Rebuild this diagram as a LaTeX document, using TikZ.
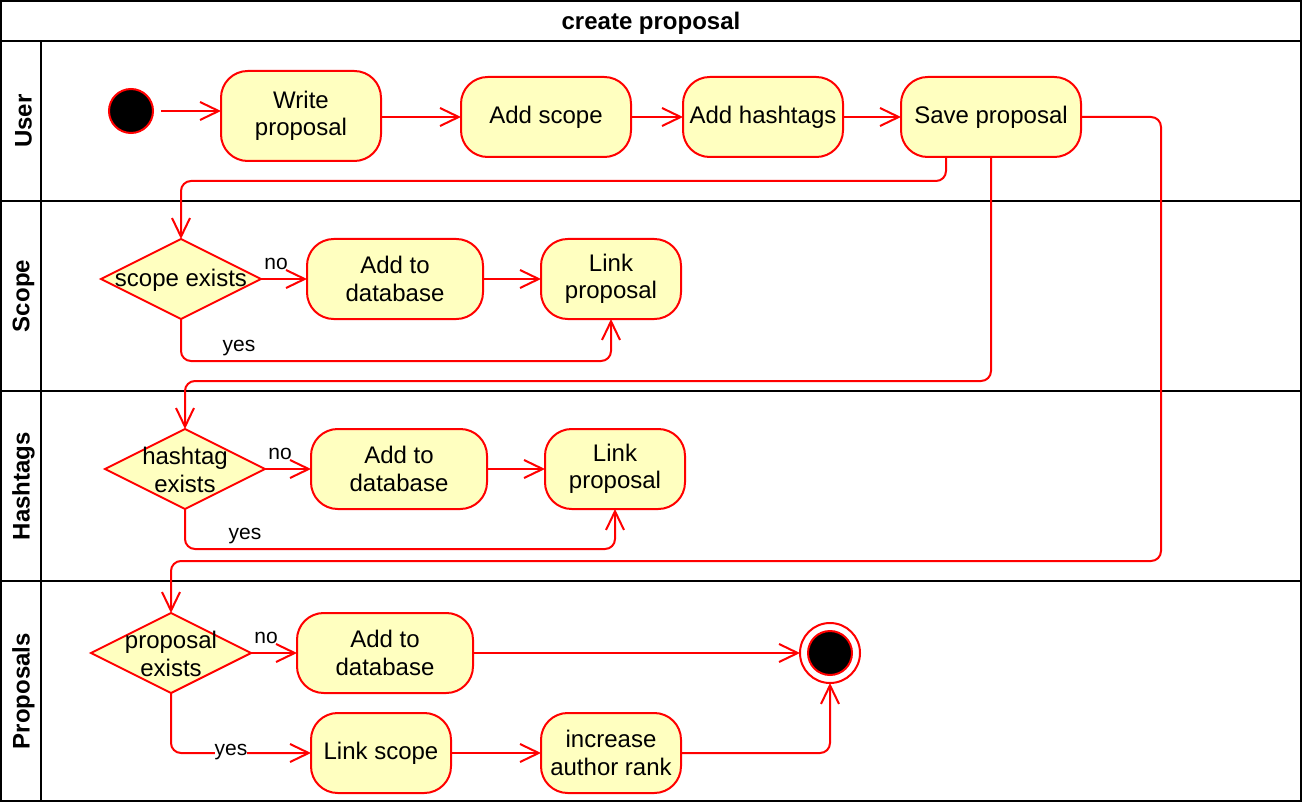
\documentclass[tikz,border=0pt]{standalone}
\usepackage{fontspec}
\setmainfont{Liberation Sans}
\usetikzlibrary{shapes.geometric,arrows.meta}
\definecolor{actfill}{HTML}{FFFFC0}
\definecolor{actred}{HTML}{FF0000}
\begin{document}
\begin{tikzpicture}[x=0.75pt,y=-0.75pt,
  frame/.style={draw=black,line width=1.5pt},
  act/.style={draw=actred,fill=actfill,line width=1.5pt,rounded corners=20pt,
    align=center,inner sep=0pt,outer sep=0pt,font=\fontsize{18}{20.5}\selectfont},
  dec/.style={draw=actred,fill=actfill,line width=1.5pt,shape=diamond,inner sep=0pt,outer sep=0pt,
    minimum width=120pt,minimum height=60pt},
  dectext/.style={align=center,inner sep=0pt,font=\fontsize{18}{20.5}\selectfont},
  conn/.style={draw=actred,line width=1.5pt,rounded corners=7.5pt,-{Straight Barb[length=14pt,width=13.5pt]}},
  elabel/.style={inner sep=1pt,font=\fontsize{15.75}{18}\selectfont},
  lanelabel/.style={rotate=90,font=\bfseries\fontsize{18}{20}\selectfont},
  titlelabel/.style={font=\bfseries\fontsize{18}{20}\selectfont}
]
\useasboundingbox (0,0) rectangle (1302,802);
% swimlane frame
\draw[frame] (1,1) rectangle (1301,801);
\draw[frame] (1,41) -- (1301,41);
\draw[frame] (41,41) -- (41,801);
\draw[frame] (1,201) -- (1301,201);
\draw[frame] (1,391) -- (1301,391);
\draw[frame] (1,581) -- (1301,581);
\node[titlelabel] (title) at (651,23.5) {create proposal};
\node[lanelabel] (lUser) at (23.5,121) {User};
\node[lanelabel] (lScope) at (23.5,296) {Scope};
\node[lanelabel] (lHash) at (23.5,486) {Hashtags};
\node[lanelabel] (lProp) at (23.5,691) {Proposals};

% User lane
\node[circle,draw=actred,fill=black,line width=1.5pt,minimum size=33pt,inner sep=0pt,outer sep=0pt] (start) at (131,111) {};
\node[act,minimum width=120pt,minimum height=67.5pt] (write) at (301,116) {Write\\proposal};
\node[act,minimum width=127.5pt,minimum height=60pt] (ascope) at (546,117) {Add scope};
\node[act,minimum width=120pt,minimum height=60pt] (ahash) at (763,117) {Add hashtags};
\node[act,minimum width=135pt,minimum height=60pt] (save) at (991,117) {Save proposal};

% Scope lane
\node[dec] (d1) at (181,279) {};
\node[dectext] (d1t) at (181,280) {scope exists};
\node[act,minimum width=132pt,minimum height=60pt] (db1) at (395,279) {Add to\\database};
\node[act,minimum width=105pt,minimum height=60pt] (lp1) at (611,279) {Link\\proposal};

% Hashtags lane
\node[dec] (d2) at (185,469) {};
\node[dectext] (d2t) at (185,470) {hashtag\\exists};
\node[act,minimum width=132pt,minimum height=60pt] (db2) at (399,469) {Add to\\database};
\node[act,minimum width=105pt,minimum height=60pt] (lp2) at (615,469) {Link\\proposal};

% Proposals lane
\node[dec] (d3) at (171,653) {};
\node[dectext] (d3t) at (171,654) {proposal\\exists};
\node[act,minimum width=132pt,minimum height=60pt] (db3) at (385,653) {Add to\\database};
\node[act,minimum width=105pt,minimum height=60pt] (ls) at (381,753) {Link scope};
\node[act,minimum width=105pt,minimum height=60pt] (iar) at (611,753) {increase\\author rank};
\node[circle,draw=actred,fill=white,line width=1.5pt,minimum size=45pt,inner sep=0pt,outer sep=0pt] (end) at (830,653) {};
\node[circle,draw=actred,fill=black,line width=1.5pt,minimum size=33pt,inner sep=0pt,outer sep=0pt] (endin) at (830,653) {};

% coordinates for routing
\coordinate (c1) at (181,181);
\coordinate (c2) at (185,381);
\coordinate (c3a) at (1161,561);
\coordinate (c3b) at (171,561);
\coordinate (c4) at (611,361);
\coordinate (c5) at (615,549);

% connectors
\draw[conn] ([xshift=6pt]start.east) -- (start -| write.west);
\draw[conn] (ascope.west -| write.east) -- (ascope.west);
\draw[conn] (ascope.east) -- (ahash.west);
\draw[conn] (ahash.east) -- (save.west);
\draw[conn] ([xshift=-33.75pt]save.south) |- (c1) -- (d1.north);
\draw[conn] (save.south) |- (c2) -- (d2.north);
\draw[conn] (save.east) -| (c3a) -- (c3b) -- (d3.north);

\draw[conn] (d1.east) -- (db1.west);
\draw[conn] (db1.east) -- (lp1.west);
\draw[conn] (d1.south) |- (c4) -- (lp1.south);
\node[elabel] (no1) at (276,264) {no};
\node[elabel] (yes1) at (239,348) {yes};

\draw[conn] (d2.east) -- (db2.west);
\draw[conn] (db2.east) -- (lp2.west);
\draw[conn] (d2.south) |- (c5) -- (lp2.south);
\node[elabel] (no2) at (280,454) {no};
\node[elabel] (yes2) at (245,536) {yes};

\draw[conn] (d3.east) -- (db3.west);
\draw[conn] (d3.south) |- (ls.west);
\node[elabel] (no3) at (266,638) {no};
\node[elabel,fill=white,inner sep=0pt] (yes3) at (231,752) {yes};
\draw[conn] (ls.east) -- (iar.west);
\draw[conn] (db3.east) -- (end.west);
\draw[conn] (iar.east) -| (end.south);
\end{tikzpicture}
\end{document}
